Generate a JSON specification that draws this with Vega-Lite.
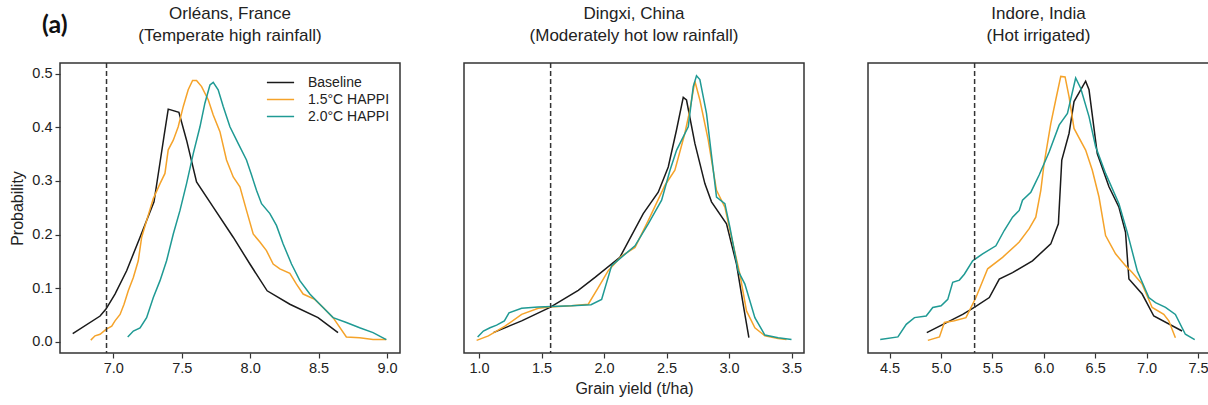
{
  "$schema": "https://vega.github.io/schema/vega-lite/v6.json",
  "background": "white",
  "padding": {"left": 9, "top": 4, "right": 0, "bottom": 0},
  "title": {"text": "(a)", "anchor": "start", "frame": "bounds", "font": "Lato", "fontSize": 25, "fontWeight": "bold", "color": "#111", "dx": 33, "dy": 33, "offset": 0},
  "config": {
    "font": "Liberation Sans",
    "view": {"stroke": "#333", "strokeWidth": 1.5},
    "axis": {"domain": false, "grid": false, "tickColor": "#333", "tickSize": 5, "tickWidth": 1.2, "labelFontSize": 14.5, "labelColor": "#222", "labelPadding": 3, "titleFontSize": 16, "titleFontWeight": "normal", "titleColor": "#222"},
    "title": {"fontSize": 17, "fontWeight": "normal", "color": "#222"}
  },
  "datasets": {
    "thresholds": [
      {"site": "Orleans", "value": 6.95},
      {"site": "Dingxi", "value": 1.573},
      {"site": "Indore", "value": 5.327}
    ],
    "curves": [
      {"site": "Orleans", "series": "Baseline", "yield": 6.703, "prob": 0.015},
      {"site": "Orleans", "series": "Baseline", "yield": 6.903, "prob": 0.048},
      {"site": "Orleans", "series": "Baseline", "yield": 6.946, "prob": 0.061},
      {"site": "Orleans", "series": "Baseline", "yield": 7.012, "prob": 0.089},
      {"site": "Orleans", "series": "Baseline", "yield": 7.097, "prob": 0.1325},
      {"site": "Orleans", "series": "Baseline", "yield": 7.195, "prob": 0.195},
      {"site": "Orleans", "series": "Baseline", "yield": 7.297, "prob": 0.261},
      {"site": "Orleans", "series": "Baseline", "yield": 7.336, "prob": 0.326},
      {"site": "Orleans", "series": "Baseline", "yield": 7.37, "prob": 0.383},
      {"site": "Orleans", "series": "Baseline", "yield": 7.401, "prob": 0.434},
      {"site": "Orleans", "series": "Baseline", "yield": 7.479, "prob": 0.428},
      {"site": "Orleans", "series": "Baseline", "yield": 7.535, "prob": 0.376},
      {"site": "Orleans", "series": "Baseline", "yield": 7.608, "prob": 0.298},
      {"site": "Orleans", "series": "Baseline", "yield": 7.73, "prob": 0.251},
      {"site": "Orleans", "series": "Baseline", "yield": 7.876, "prob": 0.195},
      {"site": "Orleans", "series": "Baseline", "yield": 7.998, "prob": 0.145},
      {"site": "Orleans", "series": "Baseline", "yield": 8.124, "prob": 0.095},
      {"site": "Orleans", "series": "Baseline", "yield": 8.29, "prob": 0.07},
      {"site": "Orleans", "series": "Baseline", "yield": 8.496, "prob": 0.045},
      {"site": "Orleans", "series": "Baseline", "yield": 8.642, "prob": 0.017},

      {"site": "Orleans", "series": "1.5°C HAPPI", "yield": 6.835, "prob": 0.003},
      {"site": "Orleans", "series": "1.5°C HAPPI", "yield": 6.866, "prob": 0.011},
      {"site": "Orleans", "series": "1.5°C HAPPI", "yield": 6.903, "prob": 0.014},
      {"site": "Orleans", "series": "1.5°C HAPPI", "yield": 6.946, "prob": 0.023},
      {"site": "Orleans", "series": "1.5°C HAPPI", "yield": 6.988, "prob": 0.029},
      {"site": "Orleans", "series": "1.5°C HAPPI", "yield": 7.012, "prob": 0.039},
      {"site": "Orleans", "series": "1.5°C HAPPI", "yield": 7.049, "prob": 0.051},
      {"site": "Orleans", "series": "1.5°C HAPPI", "yield": 7.078, "prob": 0.07},
      {"site": "Orleans", "series": "1.5°C HAPPI", "yield": 7.109, "prob": 0.095},
      {"site": "Orleans", "series": "1.5°C HAPPI", "yield": 7.146, "prob": 0.12},
      {"site": "Orleans", "series": "1.5°C HAPPI", "yield": 7.182, "prob": 0.151},
      {"site": "Orleans", "series": "1.5°C HAPPI", "yield": 7.207, "prob": 0.195},
      {"site": "Orleans", "series": "1.5°C HAPPI", "yield": 7.243, "prob": 0.226},
      {"site": "Orleans", "series": "1.5°C HAPPI", "yield": 7.292, "prob": 0.267},
      {"site": "Orleans", "series": "1.5°C HAPPI", "yield": 7.341, "prob": 0.295},
      {"site": "Orleans", "series": "1.5°C HAPPI", "yield": 7.377, "prob": 0.314},
      {"site": "Orleans", "series": "1.5°C HAPPI", "yield": 7.401, "prob": 0.358},
      {"site": "Orleans", "series": "1.5°C HAPPI", "yield": 7.438, "prob": 0.376},
      {"site": "Orleans", "series": "1.5°C HAPPI", "yield": 7.474, "prob": 0.401},
      {"site": "Orleans", "series": "1.5°C HAPPI", "yield": 7.511, "prob": 0.439},
      {"site": "Orleans", "series": "1.5°C HAPPI", "yield": 7.547, "prob": 0.47},
      {"site": "Orleans", "series": "1.5°C HAPPI", "yield": 7.579, "prob": 0.4875},
      {"site": "Orleans", "series": "1.5°C HAPPI", "yield": 7.608, "prob": 0.4875},
      {"site": "Orleans", "series": "1.5°C HAPPI", "yield": 7.645, "prob": 0.476},
      {"site": "Orleans", "series": "1.5°C HAPPI", "yield": 7.694, "prob": 0.451},
      {"site": "Orleans", "series": "1.5°C HAPPI", "yield": 7.73, "prob": 0.423},
      {"site": "Orleans", "series": "1.5°C HAPPI", "yield": 7.779, "prob": 0.392},
      {"site": "Orleans", "series": "1.5°C HAPPI", "yield": 7.827, "prob": 0.339},
      {"site": "Orleans", "series": "1.5°C HAPPI", "yield": 7.876, "prob": 0.3075},
      {"site": "Orleans", "series": "1.5°C HAPPI", "yield": 7.925, "prob": 0.289},
      {"site": "Orleans", "series": "1.5°C HAPPI", "yield": 7.973, "prob": 0.245},
      {"site": "Orleans", "series": "1.5°C HAPPI", "yield": 8.022, "prob": 0.201},
      {"site": "Orleans", "series": "1.5°C HAPPI", "yield": 8.071, "prob": 0.186},
      {"site": "Orleans", "series": "1.5°C HAPPI", "yield": 8.119, "prob": 0.17},
      {"site": "Orleans", "series": "1.5°C HAPPI", "yield": 8.168, "prob": 0.145},
      {"site": "Orleans", "series": "1.5°C HAPPI", "yield": 8.217, "prob": 0.136},
      {"site": "Orleans", "series": "1.5°C HAPPI", "yield": 8.29, "prob": 0.1275},
      {"site": "Orleans", "series": "1.5°C HAPPI", "yield": 8.338, "prob": 0.1075},
      {"site": "Orleans", "series": "1.5°C HAPPI", "yield": 8.387, "prob": 0.089},
      {"site": "Orleans", "series": "1.5°C HAPPI", "yield": 8.472, "prob": 0.079},
      {"site": "Orleans", "series": "1.5°C HAPPI", "yield": 8.533, "prob": 0.064},
      {"site": "Orleans", "series": "1.5°C HAPPI", "yield": 8.606, "prob": 0.045},
      {"site": "Orleans", "series": "1.5°C HAPPI", "yield": 8.703, "prob": 0.009},
      {"site": "Orleans", "series": "1.5°C HAPPI", "yield": 8.8, "prob": 0.0075},
      {"site": "Orleans", "series": "1.5°C HAPPI", "yield": 8.898, "prob": 0.004},
      {"site": "Orleans", "series": "1.5°C HAPPI", "yield": 8.995, "prob": 0.004},

      {"site": "Orleans", "series": "2.0°C HAPPI", "yield": 7.105, "prob": 0.009},
      {"site": "Orleans", "series": "2.0°C HAPPI", "yield": 7.146, "prob": 0.02},
      {"site": "Orleans", "series": "2.0°C HAPPI", "yield": 7.195, "prob": 0.026},
      {"site": "Orleans", "series": "2.0°C HAPPI", "yield": 7.243, "prob": 0.045},
      {"site": "Orleans", "series": "2.0°C HAPPI", "yield": 7.292, "prob": 0.0825},
      {"site": "Orleans", "series": "2.0°C HAPPI", "yield": 7.341, "prob": 0.114},
      {"site": "Orleans", "series": "2.0°C HAPPI", "yield": 7.389, "prob": 0.151},
      {"site": "Orleans", "series": "2.0°C HAPPI", "yield": 7.438, "prob": 0.201},
      {"site": "Orleans", "series": "2.0°C HAPPI", "yield": 7.487, "prob": 0.245},
      {"site": "Orleans", "series": "2.0°C HAPPI", "yield": 7.535, "prob": 0.295},
      {"site": "Orleans", "series": "2.0°C HAPPI", "yield": 7.584, "prob": 0.351},
      {"site": "Orleans", "series": "2.0°C HAPPI", "yield": 7.633, "prob": 0.401},
      {"site": "Orleans", "series": "2.0°C HAPPI", "yield": 7.669, "prob": 0.445},
      {"site": "Orleans", "series": "2.0°C HAPPI", "yield": 7.706, "prob": 0.479},
      {"site": "Orleans", "series": "2.0°C HAPPI", "yield": 7.73, "prob": 0.484},
      {"site": "Orleans", "series": "2.0°C HAPPI", "yield": 7.766, "prob": 0.47},
      {"site": "Orleans", "series": "2.0°C HAPPI", "yield": 7.803, "prob": 0.439},
      {"site": "Orleans", "series": "2.0°C HAPPI", "yield": 7.852, "prob": 0.401},
      {"site": "Orleans", "series": "2.0°C HAPPI", "yield": 7.912, "prob": 0.37},
      {"site": "Orleans", "series": "2.0°C HAPPI", "yield": 7.973, "prob": 0.339},
      {"site": "Orleans", "series": "2.0°C HAPPI", "yield": 8.01, "prob": 0.311},
      {"site": "Orleans", "series": "2.0°C HAPPI", "yield": 8.046, "prob": 0.2825},
      {"site": "Orleans", "series": "2.0°C HAPPI", "yield": 8.083, "prob": 0.2575},
      {"site": "Orleans", "series": "2.0°C HAPPI", "yield": 8.144, "prob": 0.239},
      {"site": "Orleans", "series": "2.0°C HAPPI", "yield": 8.192, "prob": 0.217},
      {"site": "Orleans", "series": "2.0°C HAPPI", "yield": 8.241, "prob": 0.1825},
      {"site": "Orleans", "series": "2.0°C HAPPI", "yield": 8.302, "prob": 0.145},
      {"site": "Orleans", "series": "2.0°C HAPPI", "yield": 8.363, "prob": 0.114},
      {"site": "Orleans", "series": "2.0°C HAPPI", "yield": 8.436, "prob": 0.089},
      {"site": "Orleans", "series": "2.0°C HAPPI", "yield": 8.509, "prob": 0.07},
      {"site": "Orleans", "series": "2.0°C HAPPI", "yield": 8.606, "prob": 0.045},
      {"site": "Orleans", "series": "2.0°C HAPPI", "yield": 8.703, "prob": 0.036},
      {"site": "Orleans", "series": "2.0°C HAPPI", "yield": 8.8, "prob": 0.026},
      {"site": "Orleans", "series": "2.0°C HAPPI", "yield": 8.898, "prob": 0.017},
      {"site": "Orleans", "series": "2.0°C HAPPI", "yield": 8.995, "prob": 0.004},

      {"site": "Dingxi", "series": "Baseline", "yield": 1.115, "prob": 0.017},
      {"site": "Dingxi", "series": "Baseline", "yield": 1.341, "prob": 0.039},
      {"site": "Dingxi", "series": "Baseline", "yield": 1.568, "prob": 0.064},
      {"site": "Dingxi", "series": "Baseline", "yield": 1.794, "prob": 0.096},
      {"site": "Dingxi", "series": "Baseline", "yield": 1.928, "prob": 0.12},
      {"site": "Dingxi", "series": "Baseline", "yield": 2.127, "prob": 0.1575},
      {"site": "Dingxi", "series": "Baseline", "yield": 2.314, "prob": 0.239},
      {"site": "Dingxi", "series": "Baseline", "yield": 2.434, "prob": 0.279},
      {"site": "Dingxi", "series": "Baseline", "yield": 2.514, "prob": 0.326},
      {"site": "Dingxi", "series": "Baseline", "yield": 2.58, "prob": 0.395},
      {"site": "Dingxi", "series": "Baseline", "yield": 2.634, "prob": 0.456},
      {"site": "Dingxi", "series": "Baseline", "yield": 2.66, "prob": 0.451},
      {"site": "Dingxi", "series": "Baseline", "yield": 2.727, "prob": 0.37},
      {"site": "Dingxi", "series": "Baseline", "yield": 2.807, "prob": 0.295},
      {"site": "Dingxi", "series": "Baseline", "yield": 2.86, "prob": 0.261},
      {"site": "Dingxi", "series": "Baseline", "yield": 2.98, "prob": 0.22},
      {"site": "Dingxi", "series": "Baseline", "yield": 3.06, "prob": 0.145},
      {"site": "Dingxi", "series": "Baseline", "yield": 3.113, "prob": 0.07},
      {"site": "Dingxi", "series": "Baseline", "yield": 3.159, "prob": 0.0075},

      {"site": "Dingxi", "series": "1.5°C HAPPI", "yield": 0.981, "prob": 0.0025},
      {"site": "Dingxi", "series": "1.5°C HAPPI", "yield": 1.075, "prob": 0.011},
      {"site": "Dingxi", "series": "1.5°C HAPPI", "yield": 1.208, "prob": 0.029},
      {"site": "Dingxi", "series": "1.5°C HAPPI", "yield": 1.341, "prob": 0.051},
      {"site": "Dingxi", "series": "1.5°C HAPPI", "yield": 1.474, "prob": 0.0625},
      {"site": "Dingxi", "series": "1.5°C HAPPI", "yield": 1.568, "prob": 0.065},
      {"site": "Dingxi", "series": "1.5°C HAPPI", "yield": 1.741, "prob": 0.067},
      {"site": "Dingxi", "series": "1.5°C HAPPI", "yield": 1.874, "prob": 0.07},
      {"site": "Dingxi", "series": "1.5°C HAPPI", "yield": 1.954, "prob": 0.101},
      {"site": "Dingxi", "series": "1.5°C HAPPI", "yield": 2.034, "prob": 0.1325},
      {"site": "Dingxi", "series": "1.5°C HAPPI", "yield": 2.141, "prob": 0.16},
      {"site": "Dingxi", "series": "1.5°C HAPPI", "yield": 2.248, "prob": 0.176},
      {"site": "Dingxi", "series": "1.5°C HAPPI", "yield": 2.354, "prob": 0.226},
      {"site": "Dingxi", "series": "1.5°C HAPPI", "yield": 2.488, "prob": 0.292},
      {"site": "Dingxi", "series": "1.5°C HAPPI", "yield": 2.567, "prob": 0.32},
      {"site": "Dingxi", "series": "1.5°C HAPPI", "yield": 2.647, "prob": 0.389},
      {"site": "Dingxi", "series": "1.5°C HAPPI", "yield": 2.687, "prob": 0.4325},
      {"site": "Dingxi", "series": "1.5°C HAPPI", "yield": 2.727, "prob": 0.486},
      {"site": "Dingxi", "series": "1.5°C HAPPI", "yield": 2.767, "prob": 0.451},
      {"site": "Dingxi", "series": "1.5°C HAPPI", "yield": 2.834, "prob": 0.376},
      {"site": "Dingxi", "series": "1.5°C HAPPI", "yield": 2.9, "prob": 0.2825},
      {"site": "Dingxi", "series": "1.5°C HAPPI", "yield": 2.967, "prob": 0.251},
      {"site": "Dingxi", "series": "1.5°C HAPPI", "yield": 3.02, "prob": 0.195},
      {"site": "Dingxi", "series": "1.5°C HAPPI", "yield": 3.087, "prob": 0.126},
      {"site": "Dingxi", "series": "1.5°C HAPPI", "yield": 3.14, "prob": 0.0575},
      {"site": "Dingxi", "series": "1.5°C HAPPI", "yield": 3.207, "prob": 0.026},
      {"site": "Dingxi", "series": "1.5°C HAPPI", "yield": 3.287, "prob": 0.011},
      {"site": "Dingxi", "series": "1.5°C HAPPI", "yield": 3.393, "prob": 0.006},
      {"site": "Dingxi", "series": "1.5°C HAPPI", "yield": 3.46, "prob": 0.004},

      {"site": "Dingxi", "series": "2.0°C HAPPI", "yield": 0.989, "prob": 0.009},
      {"site": "Dingxi", "series": "2.0°C HAPPI", "yield": 1.035, "prob": 0.02},
      {"site": "Dingxi", "series": "2.0°C HAPPI", "yield": 1.088, "prob": 0.026},
      {"site": "Dingxi", "series": "2.0°C HAPPI", "yield": 1.141, "prob": 0.031},
      {"site": "Dingxi", "series": "2.0°C HAPPI", "yield": 1.203, "prob": 0.039},
      {"site": "Dingxi", "series": "2.0°C HAPPI", "yield": 1.24, "prob": 0.054},
      {"site": "Dingxi", "series": "2.0°C HAPPI", "yield": 1.341, "prob": 0.0625},
      {"site": "Dingxi", "series": "2.0°C HAPPI", "yield": 1.474, "prob": 0.065},
      {"site": "Dingxi", "series": "2.0°C HAPPI", "yield": 1.741, "prob": 0.067},
      {"site": "Dingxi", "series": "2.0°C HAPPI", "yield": 1.896, "prob": 0.069},
      {"site": "Dingxi", "series": "2.0°C HAPPI", "yield": 1.981, "prob": 0.079},
      {"site": "Dingxi", "series": "2.0°C HAPPI", "yield": 2.061, "prob": 0.142},
      {"site": "Dingxi", "series": "2.0°C HAPPI", "yield": 2.248, "prob": 0.179},
      {"site": "Dingxi", "series": "2.0°C HAPPI", "yield": 2.354, "prob": 0.22},
      {"site": "Dingxi", "series": "2.0°C HAPPI", "yield": 2.461, "prob": 0.264},
      {"site": "Dingxi", "series": "2.0°C HAPPI", "yield": 2.528, "prob": 0.32},
      {"site": "Dingxi", "series": "2.0°C HAPPI", "yield": 2.581, "prob": 0.3575},
      {"site": "Dingxi", "series": "2.0°C HAPPI", "yield": 2.674, "prob": 0.401},
      {"site": "Dingxi", "series": "2.0°C HAPPI", "yield": 2.714, "prob": 0.476},
      {"site": "Dingxi", "series": "2.0°C HAPPI", "yield": 2.74, "prob": 0.496},
      {"site": "Dingxi", "series": "2.0°C HAPPI", "yield": 2.767, "prob": 0.489},
      {"site": "Dingxi", "series": "2.0°C HAPPI", "yield": 2.82, "prob": 0.426},
      {"site": "Dingxi", "series": "2.0°C HAPPI", "yield": 2.9, "prob": 0.27},
      {"site": "Dingxi", "series": "2.0°C HAPPI", "yield": 2.967, "prob": 0.2575},
      {"site": "Dingxi", "series": "2.0°C HAPPI", "yield": 3.007, "prob": 0.214},
      {"site": "Dingxi", "series": "2.0°C HAPPI", "yield": 3.073, "prob": 0.1325},
      {"site": "Dingxi", "series": "2.0°C HAPPI", "yield": 3.127, "prob": 0.1075},
      {"site": "Dingxi", "series": "2.0°C HAPPI", "yield": 3.207, "prob": 0.045},
      {"site": "Dingxi", "series": "2.0°C HAPPI", "yield": 3.287, "prob": 0.0125},
      {"site": "Dingxi", "series": "2.0°C HAPPI", "yield": 3.393, "prob": 0.0075},
      {"site": "Dingxi", "series": "2.0°C HAPPI", "yield": 3.5, "prob": 0.004},

      {"site": "Indore", "series": "Baseline", "yield": 4.862, "prob": 0.017},
      {"site": "Indore", "series": "Baseline", "yield": 5.211, "prob": 0.051},
      {"site": "Indore", "series": "Baseline", "yield": 5.324, "prob": 0.064},
      {"site": "Indore", "series": "Baseline", "yield": 5.47, "prob": 0.0825},
      {"site": "Indore", "series": "Baseline", "yield": 5.567, "prob": 0.117},
      {"site": "Indore", "series": "Baseline", "yield": 5.696, "prob": 0.129},
      {"site": "Indore", "series": "Baseline", "yield": 5.89, "prob": 0.151},
      {"site": "Indore", "series": "Baseline", "yield": 6.068, "prob": 0.1825},
      {"site": "Indore", "series": "Baseline", "yield": 6.142, "prob": 0.22},
      {"site": "Indore", "series": "Baseline", "yield": 6.175, "prob": 0.339},
      {"site": "Indore", "series": "Baseline", "yield": 6.246, "prob": 0.389},
      {"site": "Indore", "series": "Baseline", "yield": 6.294, "prob": 0.448},
      {"site": "Indore", "series": "Baseline", "yield": 6.407, "prob": 0.486},
      {"site": "Indore", "series": "Baseline", "yield": 6.44, "prob": 0.47},
      {"site": "Indore", "series": "Baseline", "yield": 6.52, "prob": 0.351},
      {"site": "Indore", "series": "Baseline", "yield": 6.634, "prob": 0.289},
      {"site": "Indore", "series": "Baseline", "yield": 6.731, "prob": 0.251},
      {"site": "Indore", "series": "Baseline", "yield": 6.795, "prob": 0.204},
      {"site": "Indore", "series": "Baseline", "yield": 6.828, "prob": 0.117},
      {"site": "Indore", "series": "Baseline", "yield": 6.957, "prob": 0.089},
      {"site": "Indore", "series": "Baseline", "yield": 7.07, "prob": 0.048},
      {"site": "Indore", "series": "Baseline", "yield": 7.345, "prob": 0.02},

      {"site": "Indore", "series": "1.5°C HAPPI", "yield": 4.872, "prob": 0.0025},
      {"site": "Indore", "series": "1.5°C HAPPI", "yield": 4.985, "prob": 0.009},
      {"site": "Indore", "series": "1.5°C HAPPI", "yield": 5.033, "prob": 0.036},
      {"site": "Indore", "series": "1.5°C HAPPI", "yield": 5.13, "prob": 0.039},
      {"site": "Indore", "series": "1.5°C HAPPI", "yield": 5.243, "prob": 0.045},
      {"site": "Indore", "series": "1.5°C HAPPI", "yield": 5.34, "prob": 0.0825},
      {"site": "Indore", "series": "1.5°C HAPPI", "yield": 5.454, "prob": 0.136},
      {"site": "Indore", "series": "1.5°C HAPPI", "yield": 5.599, "prob": 0.1575},
      {"site": "Indore", "series": "1.5°C HAPPI", "yield": 5.761, "prob": 0.186},
      {"site": "Indore", "series": "1.5°C HAPPI", "yield": 5.858, "prob": 0.211},
      {"site": "Indore", "series": "1.5°C HAPPI", "yield": 5.922, "prob": 0.2325},
      {"site": "Indore", "series": "1.5°C HAPPI", "yield": 5.971, "prob": 0.2825},
      {"site": "Indore", "series": "1.5°C HAPPI", "yield": 6.003, "prob": 0.3325},
      {"site": "Indore", "series": "1.5°C HAPPI", "yield": 6.068, "prob": 0.407},
      {"site": "Indore", "series": "1.5°C HAPPI", "yield": 6.116, "prob": 0.451},
      {"site": "Indore", "series": "1.5°C HAPPI", "yield": 6.165, "prob": 0.495},
      {"site": "Indore", "series": "1.5°C HAPPI", "yield": 6.207, "prob": 0.494},
      {"site": "Indore", "series": "1.5°C HAPPI", "yield": 6.246, "prob": 0.457},
      {"site": "Indore", "series": "1.5°C HAPPI", "yield": 6.294, "prob": 0.398},
      {"site": "Indore", "series": "1.5°C HAPPI", "yield": 6.407, "prob": 0.3575},
      {"site": "Indore", "series": "1.5°C HAPPI", "yield": 6.472, "prob": 0.32},
      {"site": "Indore", "series": "1.5°C HAPPI", "yield": 6.537, "prob": 0.27},
      {"site": "Indore", "series": "1.5°C HAPPI", "yield": 6.601, "prob": 0.198},
      {"site": "Indore", "series": "1.5°C HAPPI", "yield": 6.698, "prob": 0.164},
      {"site": "Indore", "series": "1.5°C HAPPI", "yield": 6.795, "prob": 0.142},
      {"site": "Indore", "series": "1.5°C HAPPI", "yield": 6.86, "prob": 0.129},
      {"site": "Indore", "series": "1.5°C HAPPI", "yield": 6.957, "prob": 0.1075},
      {"site": "Indore", "series": "1.5°C HAPPI", "yield": 7.054, "prob": 0.064},
      {"site": "Indore", "series": "1.5°C HAPPI", "yield": 7.167, "prob": 0.051},
      {"site": "Indore", "series": "1.5°C HAPPI", "yield": 7.216, "prob": 0.039},
      {"site": "Indore", "series": "1.5°C HAPPI", "yield": 7.28, "prob": 0.0075},

      {"site": "Indore", "series": "2.0°C HAPPI", "yield": 4.409, "prob": 0.004},
      {"site": "Indore", "series": "2.0°C HAPPI", "yield": 4.581, "prob": 0.009},
      {"site": "Indore", "series": "2.0°C HAPPI", "yield": 4.662, "prob": 0.0325},
      {"site": "Indore", "series": "2.0°C HAPPI", "yield": 4.742, "prob": 0.045},
      {"site": "Indore", "series": "2.0°C HAPPI", "yield": 4.856, "prob": 0.048},
      {"site": "Indore", "series": "2.0°C HAPPI", "yield": 4.92, "prob": 0.064},
      {"site": "Indore", "series": "2.0°C HAPPI", "yield": 5.001, "prob": 0.067},
      {"site": "Indore", "series": "2.0°C HAPPI", "yield": 5.066, "prob": 0.079},
      {"site": "Indore", "series": "2.0°C HAPPI", "yield": 5.114, "prob": 0.111},
      {"site": "Indore", "series": "2.0°C HAPPI", "yield": 5.179, "prob": 0.115},
      {"site": "Indore", "series": "2.0°C HAPPI", "yield": 5.227, "prob": 0.126},
      {"site": "Indore", "series": "2.0°C HAPPI", "yield": 5.308, "prob": 0.151},
      {"site": "Indore", "series": "2.0°C HAPPI", "yield": 5.405, "prob": 0.164},
      {"site": "Indore", "series": "2.0°C HAPPI", "yield": 5.534, "prob": 0.179},
      {"site": "Indore", "series": "2.0°C HAPPI", "yield": 5.615, "prob": 0.2075},
      {"site": "Indore", "series": "2.0°C HAPPI", "yield": 5.696, "prob": 0.2325},
      {"site": "Indore", "series": "2.0°C HAPPI", "yield": 5.761, "prob": 0.245},
      {"site": "Indore", "series": "2.0°C HAPPI", "yield": 5.793, "prob": 0.264},
      {"site": "Indore", "series": "2.0°C HAPPI", "yield": 5.874, "prob": 0.279},
      {"site": "Indore", "series": "2.0°C HAPPI", "yield": 5.955, "prob": 0.311},
      {"site": "Indore", "series": "2.0°C HAPPI", "yield": 6.052, "prob": 0.354},
      {"site": "Indore", "series": "2.0°C HAPPI", "yield": 6.149, "prob": 0.404},
      {"site": "Indore", "series": "2.0°C HAPPI", "yield": 6.23, "prob": 0.426},
      {"site": "Indore", "series": "2.0°C HAPPI", "yield": 6.31, "prob": 0.492},
      {"site": "Indore", "series": "2.0°C HAPPI", "yield": 6.359, "prob": 0.473},
      {"site": "Indore", "series": "2.0°C HAPPI", "yield": 6.44, "prob": 0.42},
      {"site": "Indore", "series": "2.0°C HAPPI", "yield": 6.504, "prob": 0.364},
      {"site": "Indore", "series": "2.0°C HAPPI", "yield": 6.601, "prob": 0.314},
      {"site": "Indore", "series": "2.0°C HAPPI", "yield": 6.731, "prob": 0.2575},
      {"site": "Indore", "series": "2.0°C HAPPI", "yield": 6.812, "prob": 0.204},
      {"site": "Indore", "series": "2.0°C HAPPI", "yield": 6.909, "prob": 0.1325},
      {"site": "Indore", "series": "2.0°C HAPPI", "yield": 7.022, "prob": 0.0825},
      {"site": "Indore", "series": "2.0°C HAPPI", "yield": 7.087, "prob": 0.073},
      {"site": "Indore", "series": "2.0°C HAPPI", "yield": 7.184, "prob": 0.064},
      {"site": "Indore", "series": "2.0°C HAPPI", "yield": 7.28, "prob": 0.051},
      {"site": "Indore", "series": "2.0°C HAPPI", "yield": 7.377, "prob": 0.014},
      {"site": "Indore", "series": "2.0°C HAPPI", "yield": 7.468, "prob": 0.004}
    ]
  },
  "spacing": 62,
  "resolve": {"scale": {"color": "independent", "x": "independent", "y": "independent"}, "legend": {"color": "independent"}},
  "hconcat": [
    {
      "width": 340, "height": 290,
      "title": {"text": ["Orléans, France", "(Temperate high rainfall)"], "offset": 17, "lineHeight": 22},
      "layer": [
        {
          "data": {"name": "curves"},
          "transform": [{"filter": "datum.site === 'Orleans'"}],
          "mark": {"type": "line", "strokeWidth": 1.5, "clip": true},
          "encoding": {
            "x": {"field": "yield", "type": "quantitative", "scale": {"domain": [6.61, 9.095], "nice": false, "zero": false}, "axis": {"values": [7, 7.5, 8, 8.5, 9], "format": ".1f", "title": null}},
            "y": {"field": "prob", "type": "quantitative", "scale": {"domain": [-0.021, 0.52], "nice": false, "zero": false}, "axis": {"values": [0, 0.1, 0.2, 0.3, 0.4, 0.5], "format": ".1f", "title": "Probability", "titlePadding": 6}},
            "color": {"field": "series", "type": "nominal", "scale": {"domain": ["Baseline", "1.5°C HAPPI", "2.0°C HAPPI"], "range": ["#1a1a1a", "#f5a32a", "#1f9a94"]},
              "legend": {"orient": "top-right", "offset": 10, "title": null, "symbolType": "M-1.6,0H1.6", "symbolSize": 289, "symbolStrokeWidth": 1.5, "symbolFillColor": "transparent", "labelFontSize": 14, "labelColor": "#222", "labelOffset": 18, "rowPadding": 0}}
          }
        },
        {
          "data": {"name": "thresholds"},
          "transform": [{"filter": "datum.site === 'Orleans'"}],
          "mark": {"type": "rule", "strokeDash": [5, 3], "color": "#333", "strokeWidth": 1.5},
          "encoding": {"x": {"field": "value", "type": "quantitative"}}
        }
      ]
    },
    {
      "width": 340, "height": 290,
      "title": {"text": ["Dingxi, China", "(Moderately hot low rainfall)"], "offset": 17, "lineHeight": 22},
      "layer": [
        {
          "data": {"name": "curves"},
          "transform": [{"filter": "datum.site === 'Dingxi'"}],
          "mark": {"type": "line", "strokeWidth": 1.5, "clip": true},
          "encoding": {
            "x": {"field": "yield", "type": "quantitative", "scale": {"domain": [0.88, 3.6], "nice": false, "zero": false}, "axis": {"values": [1, 1.5, 2, 2.5, 3, 3.5], "format": ".1f", "title": "Grain yield (t/ha)", "titlePadding": 6}},
            "y": {"field": "prob", "type": "quantitative", "scale": {"domain": [-0.021, 0.52], "nice": false, "zero": false}, "axis": null},
            "color": {"field": "series", "type": "nominal", "scale": {"domain": ["Baseline", "1.5°C HAPPI", "2.0°C HAPPI"], "range": ["#1a1a1a", "#f5a32a", "#1f9a94"]}, "legend": null}
          }
        },
        {
          "data": {"name": "thresholds"},
          "transform": [{"filter": "datum.site === 'Dingxi'"}],
          "mark": {"type": "rule", "strokeDash": [5, 3], "color": "#333", "strokeWidth": 1.5},
          "encoding": {"x": {"field": "value", "type": "quantitative"}}
        }
      ]
    },
    {
      "width": 341, "height": 290,
      "title": {"text": ["Indore, India", "(Hot irrigated)"], "offset": 17, "lineHeight": 22},
      "layer": [
        {
          "data": {"name": "curves"},
          "transform": [{"filter": "datum.site === 'Indore'"}],
          "mark": {"type": "line", "strokeWidth": 1.5, "clip": true},
          "encoding": {
            "x": {"field": "yield", "type": "quantitative", "scale": {"domain": [4.29, 7.607], "nice": false, "zero": false}, "axis": {"values": [4.5, 5, 5.5, 6, 6.5, 7, 7.5], "format": ".1f", "title": null}},
            "y": {"field": "prob", "type": "quantitative", "scale": {"domain": [-0.021, 0.52], "nice": false, "zero": false}, "axis": null},
            "color": {"field": "series", "type": "nominal", "scale": {"domain": ["Baseline", "1.5°C HAPPI", "2.0°C HAPPI"], "range": ["#1a1a1a", "#f5a32a", "#1f9a94"]}, "legend": null}
          }
        },
        {
          "data": {"name": "thresholds"},
          "transform": [{"filter": "datum.site === 'Indore'"}],
          "mark": {"type": "rule", "strokeDash": [5, 3], "color": "#333", "strokeWidth": 1.5},
          "encoding": {"x": {"field": "value", "type": "quantitative"}}
        }
      ]
    }
  ]
}
